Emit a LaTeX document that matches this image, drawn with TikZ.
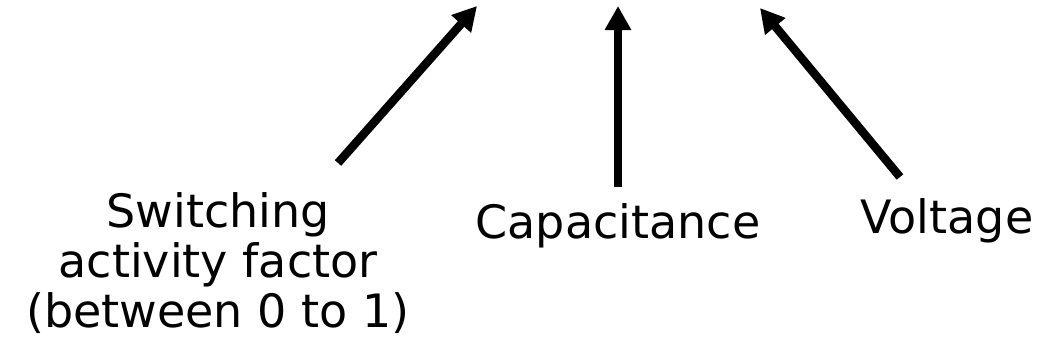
\documentclass[tikz,border=0pt]{standalone}
\usepackage{fontspec}
\setmainfont{DejaVu Sans}
\usetikzlibrary{arrows.meta}
\begin{document}
\begin{tikzpicture}[x=1pt,y=-1pt,
  lbl/.style={font=\fontsize{46}{50}\selectfont, align=center, anchor=base, inner sep=0pt},
  arr/.style={line width=8.5pt, -{Triangle[length=24pt,width=25pt]}}]
\useasboundingbox (0,0) rectangle (1042,348);
\node[lbl] (sw) at (218,327) {Switching\\activity factor\\(between 0 to 1)};
\node[lbl] (cap) at (618,238) {Capacitance};
\node[lbl] (volt) at (947,233) {Voltage};
\coordinate (t1) at (338,163);
\coordinate (h1) at (477,6);
\coordinate (t2) at (618,187);
\coordinate (h2) at (618,6);
\coordinate (t3) at (900,177);
\coordinate (h3) at (760,8);
\draw[arr] (t1) -- (h1);
\draw[arr] (t2) -- (h2);
\draw[arr] (t3) -- (h3);
\end{tikzpicture}
\end{document}
